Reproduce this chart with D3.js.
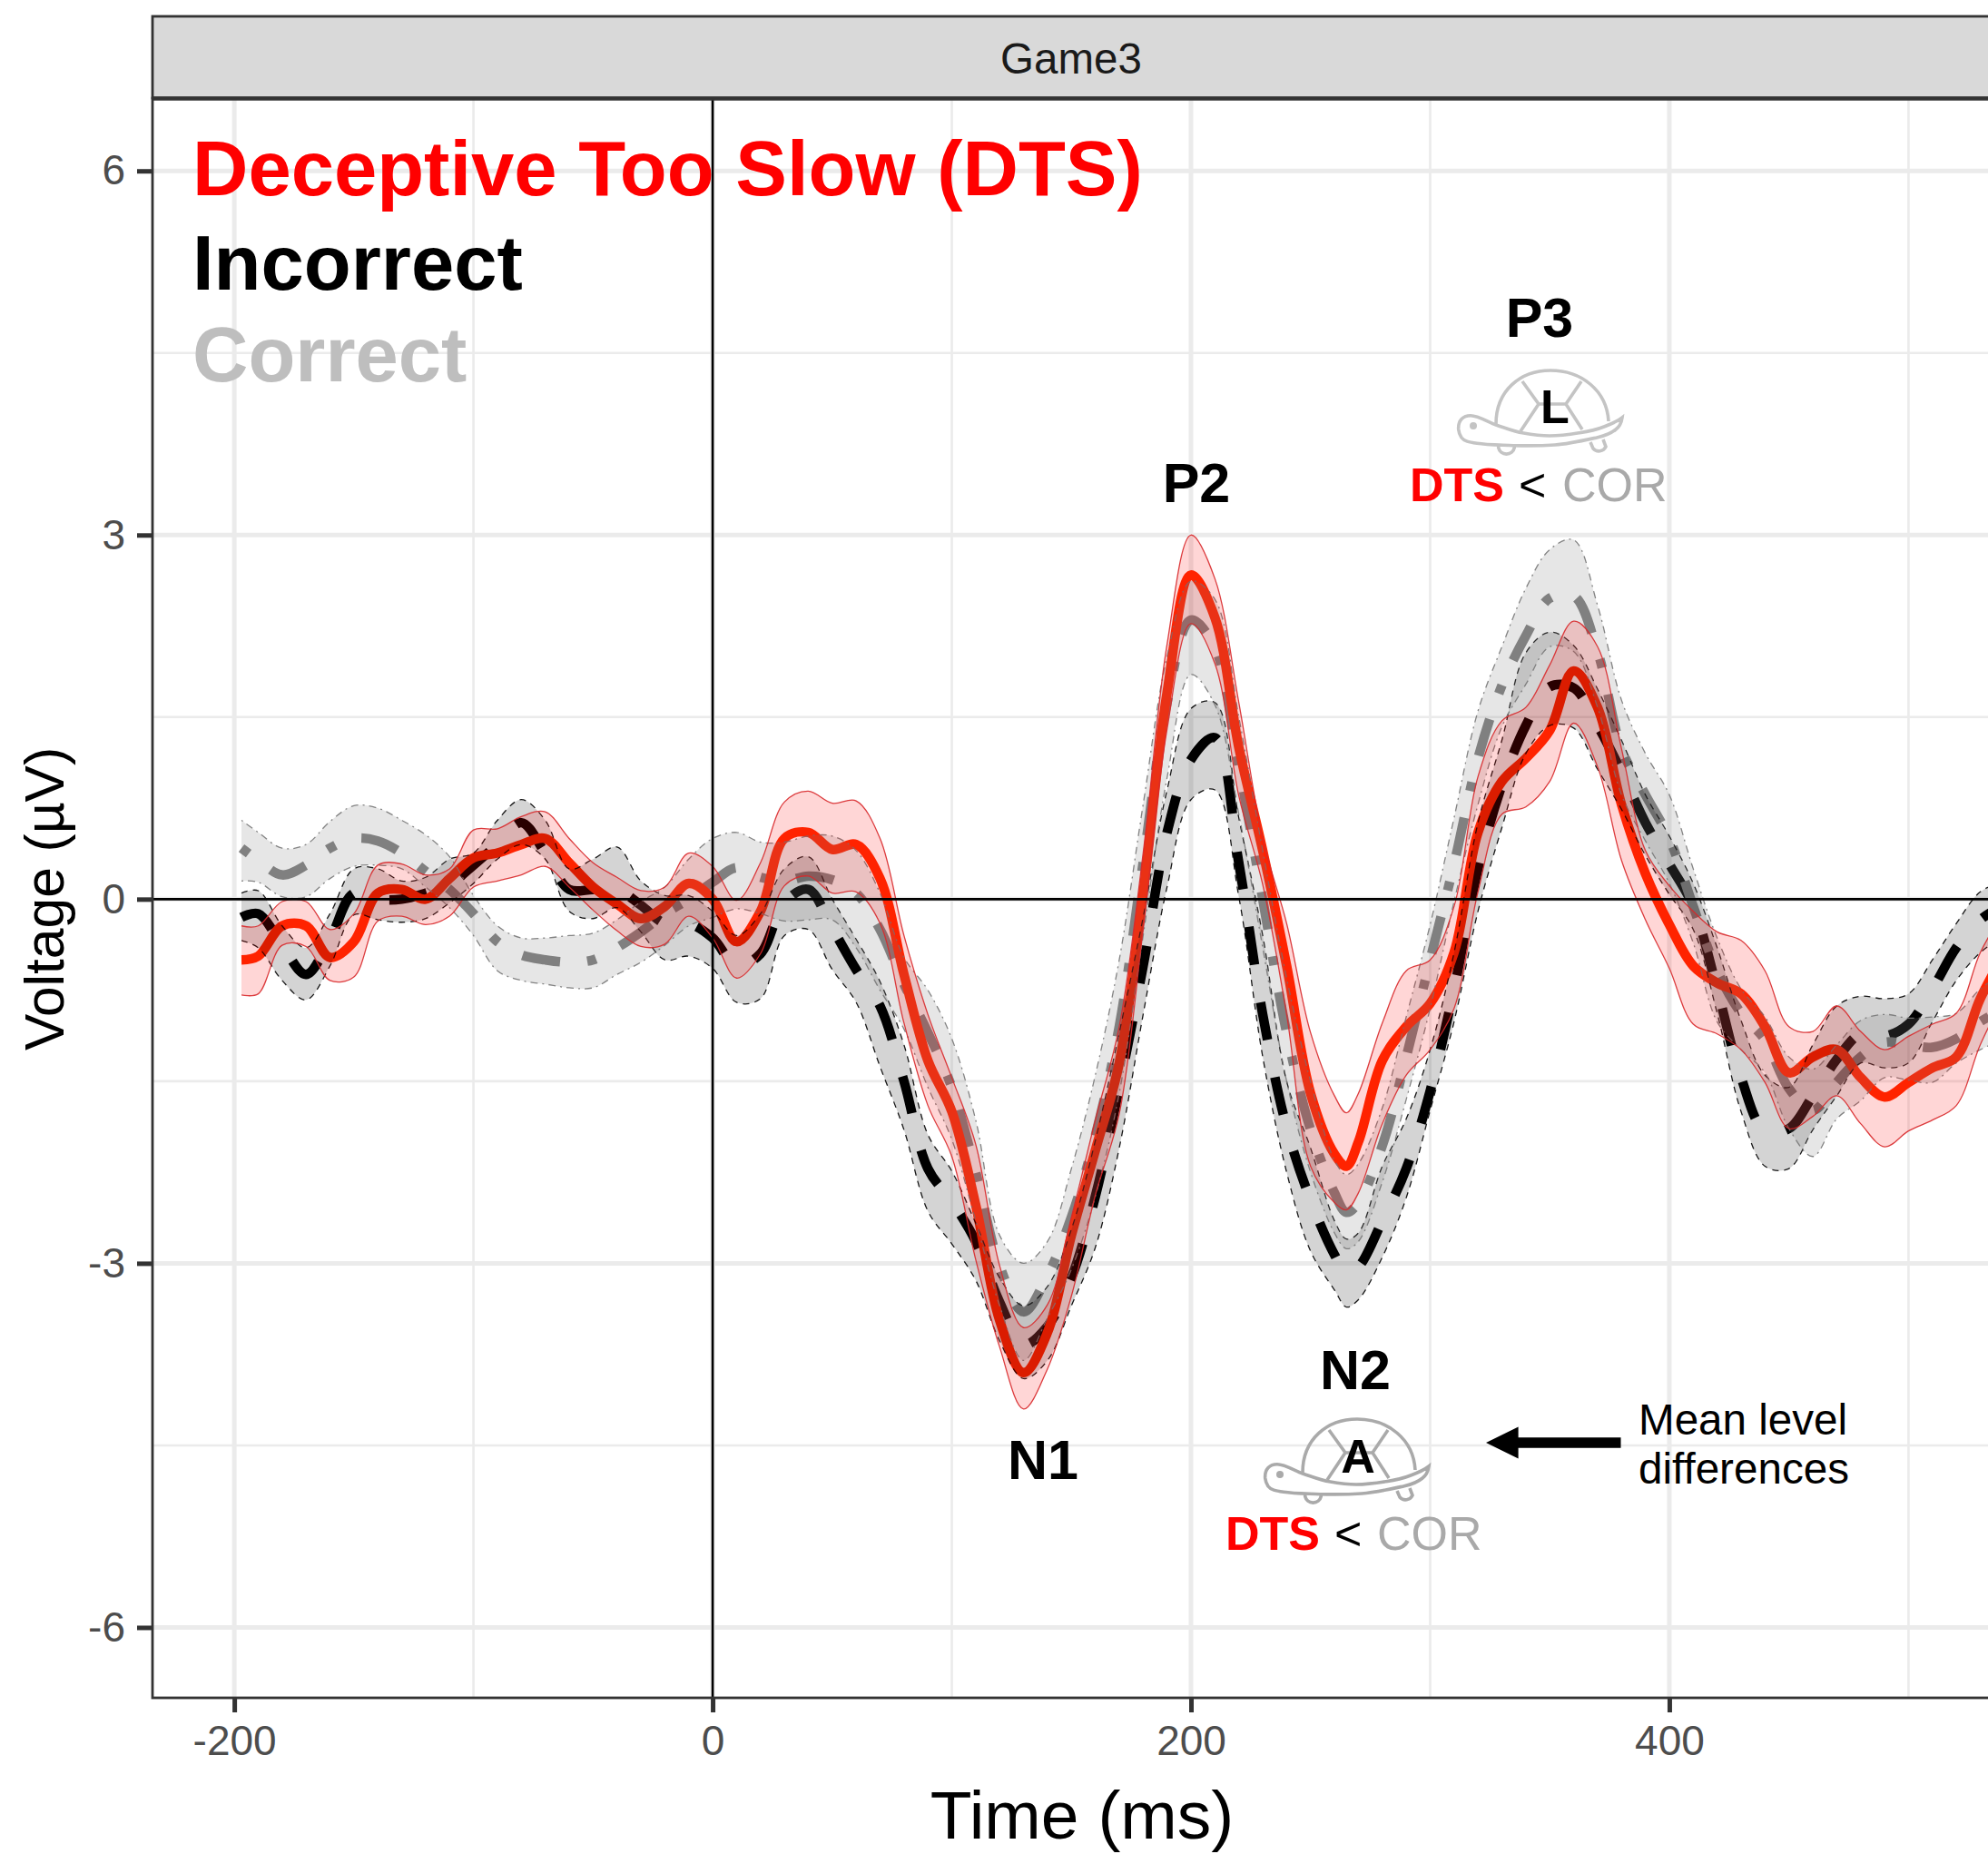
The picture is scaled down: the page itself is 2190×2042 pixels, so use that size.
<!DOCTYPE html>
<html>
<head>
<meta charset="utf-8">
<script src="https://cdnjs.cloudflare.com/ajax/libs/d3/7.8.5/d3.min.js"></script>
<style>
	html, body { margin: 0; padding: 0; background: #fff; overflow: hidden; }
	svg { display: block; }
	text { font-family: "Liberation Sans", Arial, sans-serif; }
</style>
</head>
<body>
<svg id="chart" width="2190" height="2042"></svg>
<script>
// time points, then one value per time point for every series
const timeMs = [-197, -190, -180, -170, -160, -150, -140, -130, -120, -110, -100, -90, -80, -70, -60, -50, -40, -30, -20, -10,
	0, 10, 20, 30, 40, 50, 60, 70, 80, 90,
	100, 110, 120, 130, 140, 150, 160, 170, 180, 190,
	200, 210, 220, 230, 240, 250, 260, 265, 270, 280, 290,
	300, 310, 320, 330, 340, 350, 360, 370, 380, 390,
	400, 410, 420, 430, 440, 450, 460, 470, 480, 490,
	500, 510, 520, 530, 540];

const dtsMean = [-.5, -.47, -.22, -.22, -.48, -.35, .05, .08, 0, .17, .34, .38, .45, .5, .3, .1, -.04, -.16, -.06, .13,
	0, -.35, -.1, .5, .55, .41, .45, .17, -.62, -1.33,
	-1.75, -2.52, -3.47, -3.9, -3.57, -2.77, -2.07, -1.35, .05, 1.7,
	2.67, 2.32, 1.25, .4, -.55, -1.6, -2.1, -2.2, -2.0, -1.33, -1.05,
	-.86, -.44, .55, .97, 1.16, 1.39, 1.88, 1.58, .78, .21,
	-.21, -.55, -.69, -.78, -1.05, -1.43, -1.3, -1.24, -1.47, -1.63,
	-1.51, -1.39, -1.3, -.82, -.45];
const dtsUpper = [-.22, -.22, -.02, -.02, -.25, -.12, .28, .29, .2, .25, .57, .58, .68, .72, .5, .3, .18, .07, .1, .38,
	.27, -.01, .3, .8, .89, .79, .81, .5, -.3, -.95,
	-1.47, -2.02, -3.02, -3.53, -3.34, -2.62, -1.82, -1.05, .38, 2.1,
	3.0, 2.64, 1.62, .5, -.2, -1.1, -1.62, -1.76, -1.6, -1.02, -.59,
	-.5, -.06, 1.01, 1.47, 1.58, 1.93, 2.29, 2.08, 1.24, .4,
	.11, -.1, -.27, -.34, -.59, -1.05, -1.09, -.88, -1.09, -1.24,
	-1.13, -1.03, -.94, -.44, -.1];
const dtsLower = [-.79, -.78, -.38, -.39, -.67, -.64, -.18, -.14, -.21, -.14, .1, .15, .2, .27, .1, -.09, -.26, -.39, -.37, -.14,
	-.32, -.65, -.45, .11, .19, .05, .06, -.2, -1.02, -1.7,
	-2.12, -2.97, -3.69, -4.2, -3.87, -3.27, -2.44, -1.77, -.25, 1.4,
	2.27, 1.94, .85, .12, -.95, -2.2, -2.5, -2.56, -2.42, -1.85, -1.45,
	-1.24, -.9, .06, .7, .76, .97, 1.45, 1.09, .32, -.17,
	-.57, -1.03, -1.11, -1.24, -1.51, -1.89, -1.79, -1.62, -1.85, -2.04,
	-1.91, -1.82, -1.7, -1.2, -.8];

const incorrectMean = [-.15, -.12, -.38, -.62, -.33, .05, 0, 0, .05, .12, .28, .45, .63, .38, .08, .08, .08, -.05, -.2, -.2,
	-.32, -.55, -.45, -.03, .08, -.24, -.58, -.88, -1.5, -2.22,
	-2.49, -2.82, -3.32, -3.67, -3.52, -3.12, -2.45, -1.55, -.55, .55,
	1.15, 1.33, .3, -.95, -1.88, -2.48, -2.93, -3.08, -3.03, -2.65, -2.22,
	-1.58, -.74, .25, .94, 1.43, 1.75, 1.74, 1.43, 1.05, .63,
	.29, -.06, -.74, -1.47, -1.91, -1.89, -1.62, -1.32, -1.11, -1.13,
	-1.03, -.74, -.4, -.17, -.05];
const incorrectUpper = [.05, .07, -.22, -.4, -.12, .25, .25, .15, .18, .33, .38, .65, .82, .65, .25, .33, .43, .15, .03, .03,
	-.1, -.3, -.12, .25, .35, 0, -.33, -.68, -1.2, -1.94,
	-2.24, -2.67, -3.12, -3.35, -3.19, -2.72, -1.99, -1.1, -.15, .9,
	1.57, 1.62, .67, -.3, -1.5, -2.05, -2.65, -2.8, -2.75, -2.2, -1.81,
	-1.24, -.44, .63, 1.31, 2.03, 2.2, 2.09, 1.73, 1.31, .86,
	.52, .13, -.4, -1.0, -1.45, -1.55, -1.2, -.88, -.8, -.82,
	-.78, -.5, -.2, .06, .15];
const incorrectLower = [-.34, -.4, -.67, -.83, -.55, -.13, -.17, -.19, -.16, -.03, .13, .33, .45, .33, -.1, -.16, -.07, -.27, -.5, -.47,
	-.57, -.85, -.82, -.3, -.25, -.58, -.85, -1.38, -1.9, -2.57,
	-2.84, -3.14, -3.64, -3.95, -3.8, -3.35, -2.87, -2.05, -.95, .1,
	.82, .9, .02, -1.3, -2.25, -2.9, -3.22, -3.36, -3.3, -2.95, -2.46,
	-1.74, -1.01, -.1, .59, 1.2, 1.43, 1.41, 1.07, .74, .36,
	.04, -.25, -.94, -1.75, -2.2, -2.22, -1.9, -1.62, -1.35, -1.39,
	-1.35, -1.01, -.67, -.44, -.3];

const correctMean = [.42, .32, .2, .28, .42, .5, .48, .38, .23, .08, -.12, -.35, -.46, -.5, -.52, -.5, -.4, -.27, -.12, 0,
	.14, .26, .18, .15, .19, .16, .05, -.25, -.7, -1.1,
	-1.55, -2.25, -3.02, -3.4, -3.1, -2.62, -1.95, -1.05, .3, 1.62,
	2.3, 2.07, 1.1, 0, -1.1, -1.9, -2.42, -2.58, -2.5, -2.03, -1.3,
	-.5, .29, 1.16, 1.76, 2.17, 2.48, 2.5, 2.04, 1.24, .86,
	.5, -.06, -.59, -.94, -1.16, -1.56, -1.74, -1.51, -1.3, -1.18,
	-1.2, -1.22, -1.15, -1.01, -.9];
const correctUpper = [.65, .55, .42, .45, .64, .77, .75, .65, .53, .35, .03, -.22, -.32, -.32, -.3, -.28, -.17, -.02, .1, .33,
	.5, .55, .47, .47, .52, .52, .4, .05, -.48, -.75,
	-1.15, -1.82, -2.77, -3.0, -2.82, -2.22, -1.45, -.5, .78, 2.0,
	2.62, 2.47, 1.5, .4, -.65, -1.5, -2.15, -2.27, -2.18, -1.72, -.97,
	-.21, .67, 1.55, 2.08, 2.56, 2.88, 2.96, 2.42, 1.64, 1.2,
	.86, .25, -.32, -.74, -.97, -1.3, -1.4, -1.2, -1.0, -.95,
	-.98, -.97, -.94, -.74, -.6];
const correctLower = [.15, .14, .02, .02, .17, .27, .28, .25, .1, -.07, -.3, -.59, -.67, -.7, -.73, -.73, -.62, -.52, -.38, -.22,
	-.15, -.08, -.12, -.18, -.17, -.17, -.4, -.75, -1.07, -1.55,
	-1.98, -2.65, -3.35, -3.8, -3.45, -3.05, -2.45, -1.6, -.3, 1.0,
	1.85, 1.6, .7, -.4, -1.5, -2.25, -2.75, -2.88, -2.82, -2.33, -1.65,
	-.9, -.02, .78, 1.42, 1.77, 2.08, 2.04, 1.58, .86, .48,
	.13, -.36, -1.01, -1.24, -1.43, -1.89, -2.12, -1.81, -1.66, -1.47,
	-1.49, -1.51, -1.35, -1.24, -1.15];

const xTicks = [-200, 0, 200, 400];
const xMinorTicks = [-100, 100, 300, 500];
const yTicks = [-6, -3, 0, 3, 6];
const yMinorTicks = [-4.5, -1.5, 1.5, 4.5];

const panel = { left: 168, right: 2192, top: 108, bottom: 1870 };

let svg = d3.select('#chart');

let x = d3.scaleLinear().domain([-234.2, 534]).range([panel.left, 2192]);
let y = d3.scaleLinear().domain([-6.58, 6.6]).range([panel.bottom, panel.top]);

svg.append('clipPath').attr('id', 'panel-clip').append('rect')
	.attr('x', panel.left).attr('y', panel.top)
	.attr('width', panel.right - panel.left).attr('height', panel.bottom - panel.top);

// Grid
let grid = svg.append('g');
yMinorTicks.forEach(function(v) {
	grid.append('line').attr('x1', panel.left).attr('x2', panel.right).attr('y1', y(v)).attr('y2', y(v))
		.attr('stroke', '#ebebeb').attr('stroke-width', 2.6);
});
xMinorTicks.forEach(function(t) {
	grid.append('line').attr('x1', x(t)).attr('x2', x(t)).attr('y1', panel.top).attr('y2', panel.bottom)
		.attr('stroke', '#ebebeb').attr('stroke-width', 2.6);
});
yTicks.forEach(function(v) {
	grid.append('line').attr('x1', panel.left).attr('x2', panel.right).attr('y1', y(v)).attr('y2', y(v))
		.attr('stroke', '#ebebeb').attr('stroke-width', 5);
});
xTicks.forEach(function(t) {
	grid.append('line').attr('x1', x(t)).attr('x2', x(t)).attr('y1', panel.top).attr('y2', panel.bottom)
		.attr('stroke', '#ebebeb').attr('stroke-width', 5);
});

// Series: mean lines go first, ribbons are painted over them
let rows = function(mean, upper, lower) {
	return timeMs.map(function(t, i) {
		return { t: t, mean: mean[i], upper: upper[i], lower: lower[i] };
	});
};
let series = [
	{ rows: rows(incorrectMean, incorrectUpper, incorrectLower), color: '#000', dash: '42 42', fill: 'rgba(0,0,0,0.17)', edge: '#000', edgeDash: '7 6', edgeOpacity: 0.9 },
	{ rows: rows(correctMean, correctUpper, correctLower), color: '#808080', dash: '10 30 42 30', fill: 'rgba(128,128,128,0.2)', edge: '#777', edgeDash: '2 5 8 5', edgeOpacity: 0.9 },
	{ rows: rows(dtsMean, dtsUpper, dtsLower), color: '#ff2a00', dash: null, fill: 'rgba(255,0,0,0.16)', edge: '#d8282a', edgeDash: null, edgeOpacity: 0.9 }
];

let curve = d3.curveCatmullRom.alpha(0.5);
let lineOf = function(key) {
	return d3.line().x(function(d) { return x(d.t); }).y(function(d) { return y(d[key]); }).curve(curve);
};
let ribbon = d3.area().x(function(d) { return x(d.t); })
	.y0(function(d) { return y(d.lower); })
	.y1(function(d) { return y(d.upper); })
	.curve(curve);

let plot = svg.append('g').attr('clip-path', 'url(#panel-clip)');

series.forEach(function(s) {
	plot.append('path').attr('d', lineOf('mean')(s.rows))
		.attr('fill', 'none').attr('stroke', s.color).attr('stroke-width', 10.5)
		.attr('stroke-dasharray', s.dash);
});
series.forEach(function(s) {
	plot.append('path').attr('d', ribbon(s.rows)).attr('fill', s.fill);
	['upper', 'lower'].forEach(function(key) {
		plot.append('path').attr('d', lineOf(key)(s.rows))
			.attr('fill', 'none').attr('stroke', s.edge).attr('stroke-width', 1.3)
			.attr('stroke-opacity', s.edgeOpacity).attr('stroke-dasharray', s.edgeDash);
	});
});

// Zero reference lines
plot.append('line').attr('x1', panel.left).attr('x2', panel.right).attr('y1', y(0)).attr('y2', y(0))
	.attr('stroke', '#000').attr('stroke-width', 2.6);
plot.append('line').attr('x1', x(0)).attr('x2', x(0)).attr('y1', panel.top).attr('y2', panel.bottom)
	.attr('stroke', '#000').attr('stroke-width', 2.6);

// Panel border and strip
svg.append('rect').attr('x', panel.left).attr('y', panel.top)
	.attr('width', panel.right - panel.left).attr('height', panel.bottom - panel.top)
	.attr('fill', 'none').attr('stroke', '#333').attr('stroke-width', 2.8);
svg.append('rect').attr('x', panel.left).attr('y', 18)
	.attr('width', panel.right - panel.left).attr('height', panel.top - 18)
	.attr('fill', '#d9d9d9').attr('stroke', '#333').attr('stroke-width', 2.8);
svg.append('line').attr('x1', panel.left).attr('x2', panel.right).attr('y1', panel.top + 0.5).attr('y2', panel.top + 0.5)
	.attr('stroke', '#333').attr('stroke-width', 4.6);
svg.append('text').attr('x', 1180).attr('y', 81).attr('text-anchor', 'middle')
	.attr('font-size', 47.5).attr('fill', '#1a1a1a').text('Game3');

// Axes
let styleAxis = function(g) {
	g.select('.domain').remove();
	g.selectAll('.tick line').attr('stroke', '#333').attr('stroke-width', 5);
	g.selectAll('.tick text').attr('fill', '#4d4d4d').attr('font-size', 46)
		.attr('font-family', '"Liberation Sans", Arial, sans-serif');
};
let plainNumber = function(d) {
	return String(d);
};
svg.append('g').attr('transform', 'translate(0,' + panel.bottom + ')')
	.call(d3.axisBottom(x).tickValues(xTicks).tickFormat(plainNumber).tickSize(16).tickPadding(14))
	.call(styleAxis);
svg.append('g').attr('transform', 'translate(' + panel.left + ',0)')
	.call(d3.axisLeft(y).tickValues(yTicks).tickFormat(plainNumber).tickSize(17).tickPadding(13))
	.call(styleAxis);

svg.append('text').attr('x', 1192).attr('y', 2025).attr('text-anchor', 'middle')
	.attr('font-size', 75).attr('fill', '#000').text('Time (ms)');
svg.append('text').attr('transform', 'translate(70,990) rotate(-90)').attr('text-anchor', 'middle')
	.attr('font-size', 60.5).attr('fill', '#000').text('Voltage (\u00b5V)');

// Condition legend
let legendRows = [
	{ label: 'Deceptive Too Slow (DTS)', color: '#ff0000', y: 215 },
	{ label: 'Incorrect', color: '#000', y: 319 },
	{ label: 'Correct', color: '#bebebe', y: 420 }
];
legendRows.forEach(function(d) {
	svg.append('text').attr('x', 212).attr('y', d.y).attr('font-size', 85).attr('font-weight', 'bold')
		.attr('fill', d.color).text(d.label);
});

// Component labels
[['P2', 1318, 553], ['P3', 1696, 371], ['N1', 1149, 1629], ['N2', 1493, 1530]].forEach(function(d) {
	svg.append('text').attr('x', d[1]).attr('y', d[2]).attr('text-anchor', 'middle')
		.attr('font-size', 61).attr('font-weight', 'bold').attr('fill', '#000').text(d[0]);
});

// Turtle icon, drawn in a local frame
let drawTurtle = function(ox, oy, color, letter, lx, ly) {
	let t = svg.append('g').attr('transform', 'translate(' + ox + ',' + oy + ')')
		.attr('fill', 'none').attr('stroke', color).attr('stroke-width', 3.6);
	t.append('path').attr('d', 'M148 167C148 130 175 108 208 108C242 108 270 130 272 164');
	t.append('path').attr('d', 'M106.7 173C106 163 112 157.7 120 157.7C128 157.7 138 164 148 168C160 172 170 176 177 176.7C190 179 200 180 207 180C220 180 232 178 240 176.7C252 175 262 172 267 170C275 167 282 164 287 160C286 167 284 170 280 173C274 178 268 180 260 181.7C245 185 228 189 213 190C198 191 180 191 167 190.7C150 190 138 190 127 188.3C118 187 113 186 110 182C108 179 107 176 106.7 173Z');
	t.append('path').attr('d', 'M177 120L195 145L175 175M242 120L225 145L243 173M195 145L225 145');
	t.append('path').attr('d', 'M150.7 190V193A9 9 0 0 0 168.3 193V190.7M252 187L255 194A8.5 8.5 0 0 0 269 192L266 184');
	t.append('circle').attr('cx', 123).attr('cy', 169).attr('r', 4).attr('fill', color).attr('stroke', 'none');
	svg.append('text').attr('x', lx).attr('y', ly).attr('text-anchor', 'middle')
		.attr('font-size', 52).attr('font-weight', 'bold').attr('fill', '#000').text(letter);
};
drawTurtle(1500, 300, '#c4c4c4', 'L', 1713, 466);
drawTurtle(1287, 1455, '#aaaaaa', 'A', 1496, 1622);

// DTS < COR lines
let drawContrast = function(xd, xl, xc, base) {
	svg.append('text').attr('x', xd).attr('y', base).attr('font-size', 52).attr('font-weight', 'bold')
		.attr('fill', '#ff0000').text('DTS');
	svg.append('text').attr('x', xl).attr('y', base).attr('font-size', 52).attr('fill', '#000').text('<');
	svg.append('text').attr('x', xc).attr('y', base).attr('font-size', 52).attr('fill', '#a9a9a9').text('COR');
};
drawContrast(1553, 1673, 1721, 552);
drawContrast(1350, 1470, 1517, 1707);

// Arrow note
svg.append('path').attr('d', 'M1637 1589L1672.6 1571.4V1583.3H1785.5V1594.7H1672.6V1606.6Z').attr('fill', '#000');
svg.append('text').attr('x', 1805).attr('y', 1580).attr('font-size', 47.6).attr('fill', '#000').text('Mean level');
svg.append('text').attr('x', 1805).attr('y', 1634).attr('font-size', 47.6).attr('fill', '#000').text('differences');
</script>
</body>
</html>
